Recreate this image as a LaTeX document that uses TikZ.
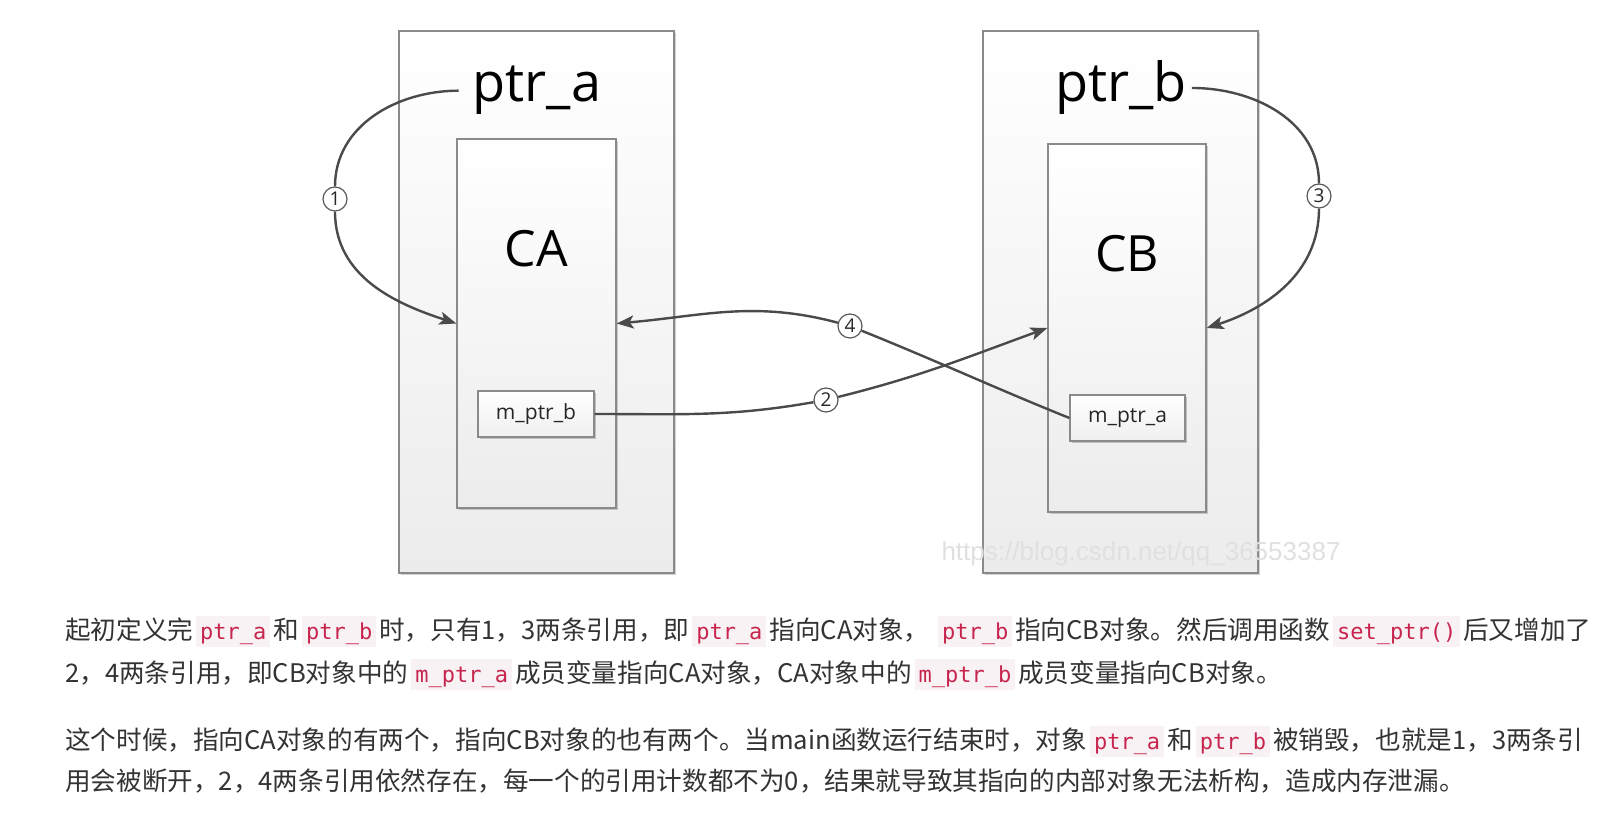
\documentclass[tikz,border=0pt]{standalone}
\usepackage{fontspec}
\setmainfont{Noto Sans CJK SC}
\newfontfamily\diafont{Open Sans}
\newfontfamily\codefont{DejaVu Sans Mono}
\newfontfamily\wmfont{Liberation Sans}
\usetikzlibrary{arrows.meta,shadows}
\definecolor{boxgray}{HTML}{8A8A8A}
\definecolor{boxbot}{HTML}{ECECEC}
\definecolor{linegray}{HTML}{4A4A4A}
\definecolor{paracol}{HTML}{333333}
\definecolor{codefg}{HTML}{C7254E}
\definecolor{codebg}{HTML}{F9F2F4}
\newcommand{\cspan}[1]{\kern3pt{\setlength{\fboxsep}{0pt}\colorbox{codebg}{\kern4pt\rule[-7pt]{0pt}{31pt}{\codefont\fontsize{22}{26}\selectfont\color{codefg}#1}\kern4pt}}\kern3pt}
\tikzset{
  obox/.style={draw=boxgray, line width=1.3pt, top color=white, bottom color=boxbot,
    drop shadow={shadow xshift=2pt, shadow yshift=-2pt, fill=black, opacity=0.18},
    inner sep=0pt},
  mbox/.style={draw=boxgray, line width=1.3pt, top color=white, bottom color=white!94!black,
    drop shadow={shadow xshift=2pt, shadow yshift=-2pt, fill=black, opacity=0.2},
    minimum width=116pt, minimum height=46pt, inner sep=0pt,
    font=\diafont\fontsize{21}{24}\selectfont, text=black!85},
  bigtxt/.style={font=\diafont\fontsize{54}{60}\selectfont, text=black, inner ysep=0pt, anchor=base},
  clstxt/.style={font=\diafont\fontsize{50}{56}\selectfont, text=black, inner sep=0pt, anchor=base},
  numc/.style={circle, draw=black!65, line width=1.2pt, fill=white, minimum size=24pt, inner sep=0pt,
    font=\diafont\fontsize{19}{21}\selectfont, text=black!85},
  conn/.style={draw=linegray, line width=2.4pt},
  arr/.style={conn, -{Stealth[length=17pt,width=13pt,inset=4pt]}},
  para/.style={font=\fontsize{25.6}{30}\selectfont, text=paracol, inner sep=0pt, anchor=base west},
}
\begin{document}
\begin{tikzpicture}[x=1pt,y=1pt]
\fill[white] (0,0) rectangle (1618,816);
\useasboundingbox (0,0) rectangle (1618,816);

% outer boxes
\node[obox, minimum width=275pt, minimum height=542pt] (A) at (536.5,514) {};
\node[obox, minimum width=275pt, minimum height=542pt] (B) at (1120.5,514) {};
% inner boxes
\node[obox, minimum width=159pt, minimum height=369pt] (CA) at (536.5,492.5) {};
\node[obox, minimum width=158pt, minimum height=368pt] (CB) at (1127,488) {};

% labels
\node[bigtxt, inner xsep=14pt] (ptra) at (537,714) {ptr\_a};
\node[bigtxt, inner xsep=5pt] (ptrb) at (1121,714) {ptr\_b};
\node[clstxt] (catxt) at (536.5,549) {CA};
\node[clstxt] (cbtxt) at (1127,544) {CB};

% member boxes
\node[mbox] (mb) at (536,402) {m\_ptr\_b};
\node[mbox, minimum width=115pt] (ma) at (1127.5,398) {m\_ptr\_a};

% watermark
\node[font=\wmfont\fontsize{26}{30}\selectfont, text=black!12, inner sep=0pt] (wm) at (1141,262) {https://blog.csdn.net/qq\_36553387};

% number circles
\node[numc] (n1) at (335,617) {1};
\node[numc] (n2) at (826,416) {2};
\node[numc] (n3) at (1319,620) {3};
\node[numc] (n4) at (850,490) {4};

% connectors
\draw[conn] (ptra.west) to[out=180,in=90] (n1);
\draw[arr] (n1) to[out=-90,in=162] (CA.west);

\draw[conn] (ptrb.east) to[out=0,in=90] (n3);
\draw[arr] (n3) to[out=-90,in=18] (CB.east);

\draw[conn] (mb.east) to[out=0,in=190] (n2);
\draw[arr] (n2) to[out=14,in=200] (CB.west);

\draw[conn] (ma.west) to[out=158,in=-22] (n4);
\draw[arr] (n4) to[out=165,in=5] (CA.east);

% paragraph text
\node[para] (l1) at (65,176) {起初定义完\cspan{ptr\_a}和\cspan{ptr\_b}时，只有1，3两条引用，即\cspan{ptr\_a}指向CA对象， \cspan{ptr\_b}指向CB对象。然后调用函数\cspan{set\_ptr()}后又增加了};
\node[para] (l2) at (65,133) {2，4两条引用，即CB对象中的\cspan{m\_ptr\_a}成员变量指向CA对象，CA对象中的\cspan{m\_ptr\_b}成员变量指向CB对象。};
\node[para] (l3) at (65,66) {这个时候，指向CA对象的有两个，指向CB对象的也有两个。当main函数运行结束时，对象\cspan{ptr\_a}和\cspan{ptr\_b}被销毁，也就是1，3两条引};
\node[para] (l4) at (65,25) {用会被断开，2，4两条引用依然存在，每一个的引用计数都不为0，结果就导致其指向的内部对象无法析构，造成内存泄漏。};
\end{tikzpicture}
\end{document}
